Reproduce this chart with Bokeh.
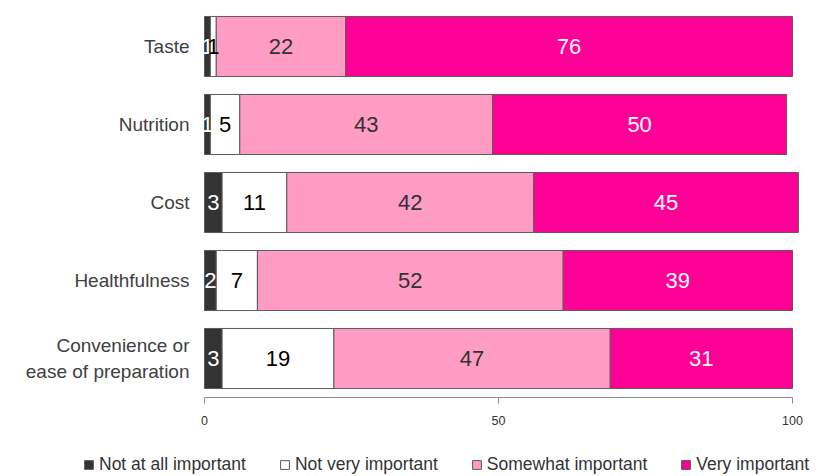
import numpy as np
from bokeh.plotting import figure
from bokeh.layouts import column
from bokeh.models import ColumnDataSource, FactorRange, Range1d, Legend, LegendItem, FixedTicker
from bokeh.core.properties import value
from bokeh.embed import file_html
from bokeh.resources import INLINE

categories = ["Taste", "Nutrition", "Cost", "Healthfulness", "Convenience or\nease of preparation"]
not_at_all = [1, 1, 3, 2, 3]
not_very = [1, 5, 11, 7, 19]
somewhat = [22, 43, 42, 52, 47]
very = [76, 50, 45, 39, 31]
series_names = ["Not at all important", "Not very important", "Somewhat important", "Very important"]
x_ticks = [0, 50, 100]

colors = ["#333333", "#FFFFFF", "#FF9CC4", "#FF0096"]
label_colors = ["#FFFFFF", "#000000", "#333333", "#FFFFFF"]
keys = ["a", "b", "c", "d"]
FONT = "Liberation Sans"

W = 821
H_MAIN, H_LEG = 440, 36
PX0, PX100 = 204, 792           # pixel positions of 0 and 100
scale = (PX100 - PX0) / 100.0
x_start = -PX0 / scale
x_end = (W - PX0) / scale
cat_label_x = (189 - PX0) / scale

data = dict(cat=categories, a=not_at_all, b=not_very, c=somewhat, d=very,
            lx=[cat_label_x] * len(categories))
vals = np.array([not_at_all, not_very, somewhat, very], dtype=float)
cum = np.cumsum(vals, axis=0)
for i, k in enumerate(keys):
    data[k + "_mid"] = list(cum[i] - vals[i] / 2)
    data[k + "_lbl"] = [str(int(v)) for v in vals[i]]
source = ColumnDataSource(data)

p = figure(width=W, height=H_MAIN, output_backend="svg", toolbar_location=None,
           y_range=FactorRange(*categories[::-1], range_padding=0),
           x_range=Range1d(x_start, x_end),
           min_border_left=0, min_border_right=0, min_border_top=7, min_border_bottom=43)
p.outline_line_color = None
p.xgrid.visible = False
p.ygrid.visible = False
p.yaxis.visible = False

renderers = p.hbar_stack(keys, y="cat", height=0.77, color=colors, source=source,
                         line_color="#5a5a5a", line_width=1)

for i, k in enumerate(keys):
    p.text(x=k + "_mid", y="cat", text=k + "_lbl", source=source,
           text_align="center", text_baseline="middle",
           text_color=label_colors[i], text_font=value(FONT), text_font_size="22px")

# category labels
p.text(x="lx", y="cat", text="cat", source=source, text_align="right", text_baseline="middle",
       text_color="#404040", text_font=value(FONT), text_font_size="19px", text_line_height=1.25)

# x axis
xa = p.xaxis[0]
xa.ticker = FixedTicker(ticks=x_ticks)
xa.bounds = (0, 100)
xa.axis_line_color = "#8c8c8c"
xa.major_tick_line_color = "#8c8c8c"
xa.major_tick_out = 6
xa.major_tick_in = 0
xa.minor_tick_line_color = None
xa.major_label_text_font = FONT
xa.major_label_text_font_size = "12.5px"
xa.major_label_text_color = "#333333"
xa.major_label_standoff = 12

# legend strip (same series, ranges set so that only the legend shows)
lp = figure(width=W, height=H_LEG, output_backend="svg", toolbar_location=None,
            y_range=FactorRange(*categories[::-1]), x_range=Range1d(-10, -5),
            min_border_left=0, min_border_right=0, min_border_top=0, min_border_bottom=0)
lp.axis.visible = False
lp.xgrid.visible = False
lp.ygrid.visible = False
lp.outline_line_color = None
lrs = lp.hbar_stack(keys, y="cat", height=0.77, color=colors, source=source,
                    line_color="#5a5a5a", line_width=1)
items = [LegendItem(label=series_names[i], renderers=[lrs[i]]) for i in range(4)]
legend = Legend(items=items, orientation="horizontal", location=(83, 1),
                glyph_width=11, glyph_height=11, label_standoff=5, spacing=33,
                label_text_font=FONT, label_text_font_size="17.5px", label_text_color="#333333",
                border_line_color=None, background_fill_alpha=0, padding=2, margin=0)
lp.add_layout(legend, "center")

layout = column(p, lp, spacing=0)
open("out.html", "w").write(file_html(layout, INLINE))
